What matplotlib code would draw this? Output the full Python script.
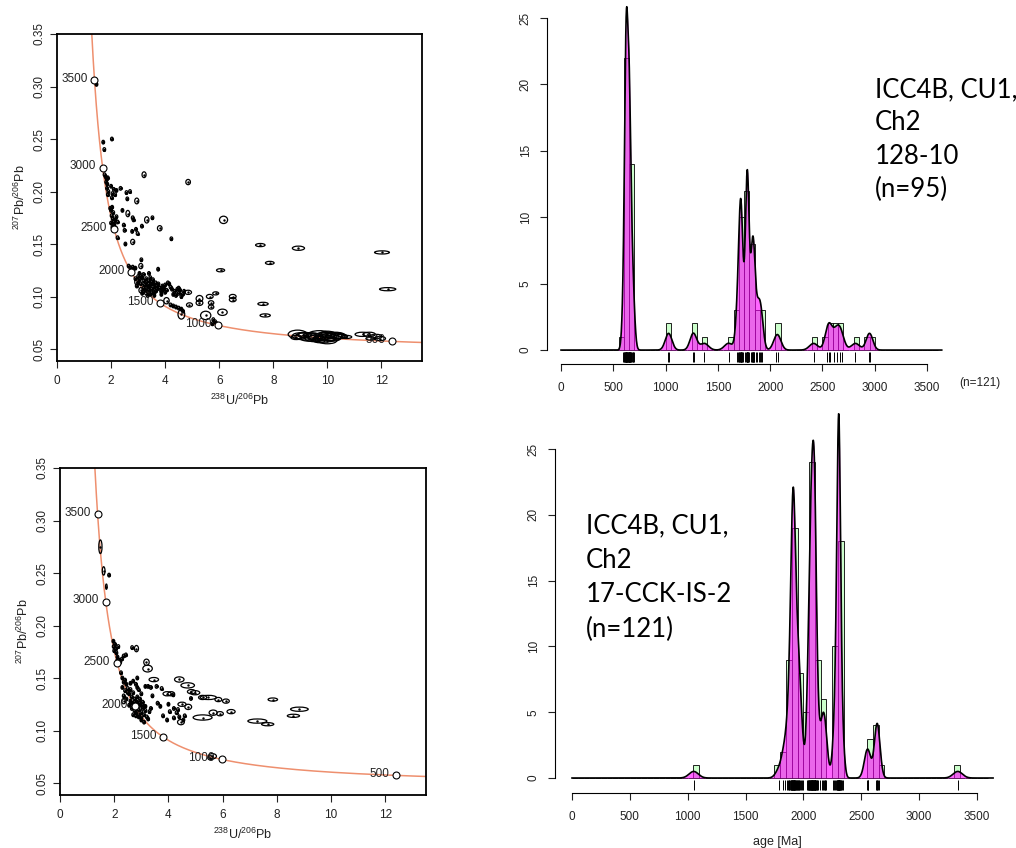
import numpy as np
import matplotlib
matplotlib.use("Agg")
from matplotlib import pyplot as plt
from matplotlib.patches import Ellipse

plt.rcParams['font.family'] = ['Liberation Sans', 'DejaVu Sans']
plt.rcParams['mathtext.fontset'] = 'custom'
plt.rcParams['mathtext.rm'] = 'Liberation Sans'

# ---------------- data ----------------
# concordia age markers [Ma]
marker_ages = [500, 1000, 1500, 2000, 2500, 3000, 3500]

# sample 128-10 : small ellipses (default size) and larger ellipses
tl_small_x = [1.40, 1.46, 1.71, 1.75, 2.03,
              1.76, 1.80, 1.84, 1.88, 1.82, 1.86, 1.85, 1.90, 1.88, 2.00, 2.05, 2.10, 2.15, 2.03, 2.20,
              2.35, 2.57, 2.70, 2.60,
              1.97, 2.00, 2.04, 2.08, 2.02, 2.06, 2.10, 2.00, 2.12, 2.16, 2.20, 2.05, 2.18, 2.24,
              2.42, 2.80, 2.83, 2.47, 2.50, 2.24, 2.53, 2.78, 2.92, 2.98, 3.14, 3.53, 4.23,
              2.65, 2.72, 2.80, 2.90, 3.12, 3.40, 3.74,
              2.90, 3.00, 3.05, 3.10, 3.15, 3.20, 3.25, 3.30, 3.35, 3.40, 3.45, 3.50, 3.55, 3.60,
              3.65, 3.70, 3.80, 3.90, 4.00, 4.10, 4.15, 3.45, 3.60, 3.86,
              3.00, 3.10, 3.20, 3.30, 3.40, 3.50, 3.60, 3.70, 3.75, 3.85, 3.95, 4.05, 4.20, 2.95, 3.15,
              3.35, 3.50, 3.25, 3.45, 3.05, 3.55, 3.65, 3.90, 4.00, 3.20, 3.40,
              4.25, 4.35, 4.45, 4.50, 4.55, 4.60, 4.40, 4.70, 4.30, 4.50, 4.65,
              3.80, 4.30, 4.40, 4.50, 4.60, 4.66, 4.20, 5.78, 5.85, 5.92, 5.75]
tl_small_y = [0.305, 0.302, 0.247, 0.240, 0.250,
              0.216, 0.214, 0.212, 0.213, 0.209, 0.207, 0.203, 0.200, 0.197, 0.205, 0.198, 0.202, 0.197, 0.194, 0.201,
              0.203, 0.199, 0.200, 0.193,
              0.184, 0.182, 0.185, 0.180, 0.177, 0.174, 0.171, 0.170, 0.168, 0.173, 0.176, 0.166, 0.165, 0.171,
              0.182, 0.175, 0.173, 0.168, 0.163, 0.156, 0.150, 0.162, 0.164, 0.160, 0.167, 0.175, 0.155,
              0.129, 0.127, 0.128, 0.127, 0.135, 0.122, 0.126,
              0.117, 0.119, 0.116, 0.112, 0.118, 0.115, 0.111, 0.113, 0.109, 0.115, 0.111, 0.107, 0.112, 0.109,
              0.105, 0.110, 0.108, 0.110, 0.111, 0.113, 0.112, 0.102, 0.101, 0.102,
              0.113, 0.120, 0.108, 0.117, 0.106, 0.114, 0.104, 0.107, 0.112, 0.105, 0.108, 0.106, 0.109, 0.110, 0.103,
              0.101, 0.1035, 0.106, 0.118, 0.122, 0.116, 0.113, 0.106, 0.104, 0.121, 0.110,
              0.107, 0.105, 0.107, 0.103, 0.106, 0.100, 0.101, 0.105, 0.102, 0.108, 0.102,
              0.094, 0.091, 0.090, 0.089, 0.088, 0.086, 0.092, 0.078, 0.076, 0.074, 0.074]
tl_big_x = [2.95, 3.22, 4.85, 2.62, 2.80, 3.32, 3.80, 3.10, 2.95, 3.10, 3.30, 4.85,
            6.16, 7.52, 8.93, 7.87, 6.05, 7.62, 7.70, 12.02, 12.23,
            4.05, 4.60, 4.90, 5.27, 5.27, 5.50, 5.65, 5.70, 5.70, 5.87, 6.12, 6.50, 6.50,
            8.90, 9.20, 9.50, 9.70, 9.90, 10.0, 10.1, 10.3, 9.40, 8.85, 9.80, 10.5, 10.7,
            9.00, 9.30, 9.90, 10.2, 10.4, 9.70, 9.15, 10.05,
            11.3, 11.55, 11.8, 11.95, 11.6, 10.0, 9.60]
tl_big_y = [0.191, 0.216, 0.209, 0.179, 0.152, 0.173, 0.165, 0.129, 0.114, 0.106, 0.104, 0.104,
            0.173, 0.149, 0.146, 0.132, 0.125, 0.093, 0.082, 0.142, 0.107,
            0.096, 0.083, 0.092, 0.098, 0.094, 0.082, 0.100, 0.094, 0.090, 0.103, 0.085, 0.100, 0.097,
            0.064, 0.062, 0.061, 0.063, 0.060, 0.058, 0.062, 0.063, 0.063, 0.061, 0.061, 0.062, 0.0615,
            0.0625, 0.0605, 0.0625, 0.0605, 0.0625, 0.059, 0.0635, 0.0615,
            0.064, 0.064, 0.062, 0.060, 0.060, 0.064, 0.0605]
tl_big_w = [0.15, 0.15, 0.17, 0.14, 0.15, 0.16, 0.17, 0.15, 0.15, 0.14, 0.14, 0.25,
            0.30, 0.35, 0.45, 0.32, 0.30, 0.38, 0.38, 0.55, 0.60,
            0.20, 0.25, 0.22, 0.25, 0.25, 0.38, 0.25, 0.20, 0.20, 0.22, 0.35, 0.25, 0.25,
            0.70, 0.80, 0.70, 0.90, 0.80, 0.70, 0.90, 0.70, 0.60, 0.40, 0.50, 0.50, 0.40,
            0.60, 0.60, 0.70, 0.60, 0.60, 0.50, 0.50, 0.60,
            0.55, 0.45, 0.45, 0.40, 0.35, 0.60, 0.60]
tl_big_h = [0.0055, 0.0055, 0.005, 0.006, 0.005, 0.006, 0.005, 0.005, 0.006, 0.005, 0.005, 0.004,
            0.007, 0.003, 0.004, 0.003, 0.003, 0.003, 0.003, 0.003, 0.003,
            0.006, 0.009, 0.004, 0.006, 0.005, 0.008, 0.004, 0.004, 0.004, 0.003, 0.006, 0.004, 0.004,
            0.008, 0.007, 0.008, 0.009, 0.007, 0.006, 0.008, 0.006, 0.005, 0.004, 0.005, 0.004, 0.003,
            0.006, 0.006, 0.007, 0.006, 0.005, 0.006, 0.005, 0.007,
            0.004, 0.004, 0.004, 0.004, 0.003, 0.006, 0.006]

# sample 17-CCK-IS-2
bl_small_x = [1.81, 1.97, 1.98, 2.00, 2.03, 2.05, 2.08, 2.12, 2.15, 2.10, 2.18, 2.22, 2.28, 2.35, 2.43, 2.66,
              2.25, 2.30, 2.35, 2.30, 2.40, 2.45, 2.50, 2.35, 2.45, 2.55, 2.60, 2.65, 2.70, 2.75, 2.80, 2.85,
              2.90, 2.95, 3.00, 3.05, 3.10, 3.15, 3.20, 3.00, 2.90, 2.80, 2.75, 2.65, 2.55, 2.60, 2.70, 2.80,
              2.85, 2.90, 3.00, 3.10, 3.25, 3.30, 3.35, 2.95, 3.05,
              2.40, 2.50, 2.60, 2.70, 2.75, 2.85, 2.95, 3.05, 3.15, 2.65, 2.80, 2.90, 3.00, 2.70, 2.85,
              3.15, 3.25, 3.35, 3.56, 3.75, 3.41, 3.60, 3.70, 3.80, 4.18, 4.00, 4.05, 4.20, 4.30, 4.40,
              4.55, 4.83, 4.35, 3.95, 4.60, 4.20]
bl_small_y = [0.248, 0.185, 0.180, 0.176, 0.182, 0.178, 0.174, 0.170, 0.180, 0.166, 0.167, 0.165, 0.168, 0.171, 0.172, 0.179,
              0.155, 0.150, 0.146, 0.141, 0.138, 0.144, 0.140, 0.133, 0.130, 0.135, 0.128, 0.132, 0.125, 0.130, 0.122, 0.127,
              0.120, 0.124, 0.117, 0.121, 0.115, 0.119, 0.113, 0.112, 0.115, 0.117, 0.119, 0.121, 0.124, 0.145, 0.147, 0.144,
              0.150, 0.139, 0.135, 0.108, 0.111, 0.118, 0.121, 0.130, 0.127,
              0.148, 0.136, 0.139, 0.136, 0.127, 0.132, 0.126, 0.124, 0.123, 0.126, 0.114, 0.113, 0.110, 0.115, 0.141,
              0.142, 0.142, 0.141, 0.142, 0.140, 0.133, 0.126, 0.123, 0.114, 0.134, 0.125, 0.118, 0.121, 0.117, 0.113,
              0.110, 0.1305, 0.120, 0.110, 0.114, 0.112]
bl_big_x = [1.49, 1.61, 1.71, 2.82, 3.19, 3.23, 2.35, 3.46, 3.95, 4.10, 4.46, 4.40, 4.71, 4.85, 4.98,
            4.73, 4.50, 5.26, 5.47, 5.84, 6.12, 5.26, 5.65, 5.90, 6.31, 7.28, 7.66, 7.85, 8.61, 8.83,
            5.62, 5.55]
bl_big_y = [0.275, 0.252, 0.237, 0.178, 0.165, 0.159, 0.128, 0.1485, 0.135, 0.135, 0.108, 0.1486, 0.143, 0.137, 0.136,
            0.1225, 0.125, 0.1315, 0.1315, 0.1295, 0.128, 0.1124, 0.117, 0.116, 0.118, 0.109, 0.106, 0.1295, 0.114, 0.1203,
            0.0755, 0.074]
bl_big_w = [0.12, 0.10, 0.06, 0.15, 0.20, 0.35, 0.15, 0.35, 0.30, 0.25, 0.25, 0.35, 0.50, 0.30, 0.35,
            0.25, 0.30, 0.30, 0.60, 0.25, 0.25, 0.70, 0.30, 0.25, 0.30, 0.70, 0.45, 0.35, 0.45, 0.65,
            0.30, 0.20]
bl_big_h = [0.013, 0.008, 0.005, 0.006, 0.006, 0.0065, 0.005, 0.004, 0.004, 0.004, 0.005, 0.005, 0.005, 0.004, 0.004,
            0.005, 0.004, 0.004, 0.004, 0.004, 0.004, 0.005, 0.005, 0.004, 0.004, 0.004, 0.003, 0.003, 0.003, 0.004,
            0.005, 0.004]

# detrital zircon ages [Ma]
ages_128 = [592,
            602, 606, 609, 612, 615, 617, 619, 621, 622, 623, 624, 625, 626, 627, 629, 631, 634, 637, 640, 643, 646, 648,
            650, 651, 652, 653, 655, 657, 660, 664, 668, 673, 678, 684, 690, 696,
            1025, 1032, 1262, 1268, 1370, 1602,
            1680, 1690, 1697,
            1705, 1710, 1714, 1717, 1719, 1721, 1723, 1726, 1732, 1742,
            1760, 1768, 1774, 1777, 1779, 1780, 1781, 1782, 1784, 1787, 1791, 1797,
            1812, 1824, 1830, 1834, 1836, 1838, 1842, 1848,
            1862, 1876, 1892, 1904, 1912, 1918,
            2058, 2078, 2415, 2540, 2558, 2575, 2612, 2640, 2665, 2688, 2815, 2946, 2953]
ages_cck = [1052, 1792, 1825, 1840,
            1855, 1866, 1874, 1880, 1885, 1889, 1893, 1896, 1899,
            1901, 1903, 1905, 1907, 1909, 1911, 1913, 1915, 1917, 1919, 1921, 1923, 1925, 1928, 1931, 1934, 1938, 1943, 1947,
            1951, 1955, 1959, 1964, 1970, 1977, 1985, 1995,
            2030, 2036, 2041, 2045, 2048,
            2052, 2055, 2058, 2061, 2063, 2065, 2067, 2069, 2071, 2073, 2075, 2077, 2079, 2081, 2083, 2085, 2087,
            2089, 2091, 2093, 2095, 2097, 2098, 2099,
            2101, 2103, 2105, 2108, 2111, 2115, 2120, 2128, 2142,
            2158, 2168, 2176, 2183, 2190, 2198,
            2258, 2268, 2276, 2282, 2287, 2291, 2294, 2296, 2298, 2299,
            2301, 2303, 2304, 2305, 2306, 2307, 2308, 2309, 2310, 2311, 2312, 2313, 2315, 2318, 2322, 2328, 2336, 2345,
            2550, 2555, 2560, 2630, 2634, 2637, 2641, 2651, 3335]

label_128 = "ICC4B, CU1,\nCh2\n128-10\n(n=95)"
label_cck = "ICC4B, CU1,\nCh2\n17-CCK-IS-2\n(n=121)"

W, H = 1016, 848
fig = plt.figure(figsize=(W / 100, H / 100), dpi=100)
TXT = '#222222'


def px_axes(l, t, r, b):
    return fig.add_axes([l / W, 1 - b / H, (r - l) / W, (b - t) / H])


def tw_concordia(t):
    l8, l5 = 1.55125e-4, 9.8485e-4  # per Ma
    e8 = np.exp(l8 * t) - 1
    e5 = np.exp(l5 * t) - 1
    return 1 / e8, e5 / e8 / 137.818


def concordia_panel(ax, sx, sy, bx, by, bw, bh):
    t = np.linspace(50, 4600, 800)
    cx, cy = tw_concordia(t)
    ax.plot(cx, cy, color='#EE8F6E', lw=1.1, zorder=1)
    for x, y in zip(sx, sy):
        ax.add_patch(Ellipse((x, y), 0.1, 0.0035, fill=False, ec='black', lw=0.9, zorder=2))
    for x, y, w, h in zip(bx, by, bw, bh):
        ax.add_patch(Ellipse((x, y), w, h, fill=False, ec='black', lw=0.9, zorder=2))
    ax.plot(sx, sy, 'k.', ms=2.5, zorder=3)
    ax.plot(bx, by, 'k.', ms=1.5, zorder=3)
    mx, my = tw_concordia(np.array(marker_ages, float))
    ax.plot(mx, my, 'o', ms=5, mfc='white', mec='black', mew=0.8, zorder=4)
    for a, x, y in zip(marker_ages, mx, my):
        ax.annotate(str(a), (x, y), xytext=(-5, 1), textcoords='offset points',
                    ha='right', va='center', fontsize=8.5, color=TXT, zorder=5)
    ax.set_xlim(0, 13.5)
    ax.set_ylim(0.0386, 0.35)
    ax.set_xticks([0, 2, 4, 6, 8, 10, 12])
    ax.set_yticks([0.05, 0.10, 0.15, 0.20, 0.25, 0.30, 0.35])
    ax.set_yticklabels(['0.05', '0.10', '0.15', '0.20', '0.25', '0.30', '0.35'],
                       rotation=90, va='center')
    ax.tick_params(labelsize=8.5, length=5, width=0.8, direction='out', colors=TXT)
    ax.tick_params(axis='x', pad=5)
    for s in ax.spines.values():
        s.set_linewidth(1.3)
    ax.set_xlabel('$^{238}$U/$^{206}$Pb', fontsize=9, labelpad=4, color=TXT)
    ax.set_ylabel('$^{207}$Pb/$^{206}$Pb', fontsize=9, labelpad=4, color=TXT)


def kde_curve(ages, grid, hp, hs, binw):
    # adaptive kde: isolated grains get bandwidth hs, dense clusters narrower
    a = np.asarray(ages, float)
    k = np.exp(-0.5 * ((a[:, None] - a[None, :]) / hp) ** 2).sum(1)
    hi = hs / k ** 0.35
    d = np.exp(-0.5 * ((grid[None, :] - a[:, None]) / hi[:, None]) ** 2) / (hi[:, None] * np.sqrt(2 * np.pi))
    return d.sum(0) * binw


def kde_panel(ax, ages, ylim, xlim):
    grid = np.linspace(0, 3640, 3000)
    ax.hist(ages, bins=np.arange(0, 3650, 50), color='#CCFFCC', ec='black', lw=0.6, zorder=1)
    dens = kde_curve(ages, grid, 30, 40, 50)
    ax.fill_between(grid, 0, dens, color='#FF00FF', alpha=0.6, lw=0, zorder=2)
    ax.plot(grid, dens, color='black', lw=1.2, zorder=3)
    ax.vlines(ages, -0.15, -0.9, color='black', lw=0.7)
    ax.set_xlim(*xlim)
    ax.set_ylim(*ylim)
    for s in ['top', 'right']:
        ax.spines[s].set_visible(False)
    ax.spines['left'].set_bounds(0, 25)
    ax.spines['bottom'].set_bounds(0, 3500)
    ax.set_xticks(range(0, 3501, 500))
    ax.set_yticks([0, 5, 10, 15, 20, 25])
    ax.set_yticklabels(['0', '5', '10', '15', '20', '25'], rotation=90, va='center')
    ax.tick_params(labelsize=8.5, length=5, width=0.8, colors=TXT)
    ax.tick_params(axis='x', pad=8)
    ax.tick_params(axis='y', pad=6)
    ax.set_xlabel('age [Ma]', fontsize=9, labelpad=9, color=TXT)


ax1 = px_axes(57, 34, 422, 361)
concordia_panel(ax1, tl_small_x, tl_small_y, tl_big_x, tl_big_y, tl_big_w, tl_big_h)

ax3 = px_axes(60, 468, 426, 795)
concordia_panel(ax3, bl_small_x, bl_small_y, bl_big_x, bl_big_y, bl_big_w, bl_big_h)

ax2 = px_axes(547, 4.7, 948, 364)
kde_panel(ax2, ages_128, (-1.05, 26), (-134, 3700))

ax4 = px_axes(555, 403, 1000, 793)
kde_panel(ax4, ages_cck, (-1.14, 28.5), (-147, 3700))

fig.text(980 / W, 1 - 383 / H, '(n=121)', ha='center', va='center', fontsize=8.5, color=TXT)
fig.text(875 / W, 1 - 77 / H, label_128, ha='left', va='top', fontsize=18.5,
         family=['Lato', 'DejaVu Sans'], linespacing=1.42)
fig.text(586 / W, 1 - 513 / H, label_cck, ha='left', va='top', fontsize=18.5,
         family=['Lato', 'DejaVu Sans'], linespacing=1.48)

fig.savefig('out.png', dpi=100)
